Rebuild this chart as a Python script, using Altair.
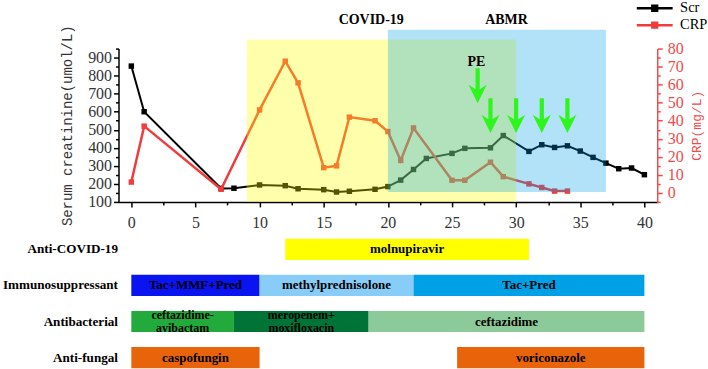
import altair as alt
import pandas as pd

# Serum creatinine (umol/L) by day
scr_day = [0, 1, 7, 8, 10, 12, 13, 15, 16, 17, 19, 20, 21, 22, 23, 25, 26, 28, 29,
           31, 32, 33, 34, 35, 36, 37, 38, 39, 40]
scr_val = [853, 600, 175, 176, 194, 190, 173, 168, 155, 159, 170, 185, 221, 280, 341,
           369, 397, 400, 468, 380, 417, 402, 411, 382, 347, 315, 284, 288, 251]

# C-reactive protein (mg/L) by day
crp_day = [0, 1, 7, 10, 12, 13, 15, 16, 17, 19, 20, 21, 22, 25, 26, 28, 29, 31, 32, 33, 34]
crp_val = [6, 37, 2, 46, 73, 61, 14, 15, 42, 40, 34, 18, 36, 7, 7, 17, 9, 5, 3, 1, 1]

# clinical phases: day span and extent on the CRP scale
phase_name = ["COVID-19", "ABMR"]
phase_start = [9, 20]
phase_end = [30, 37]
phase_low = [-5, 0.5]
phase_high = [85, 90.5]
phase_label_day = [18.7, 29.25]
phase_label_level = [95.6, 95.6]

# plasma exchange sessions
pe_day = [27, 28, 30, 32, 34]
pe_level = [59.4, 42.8, 42.8, 42.8, 42.8]
pe_label_day = [26.9]
pe_label_level = [72.4]

# treatment timeline
rows = ["Anti-COVID-19", "Immunosuppressant", "Antibacterial", "Anti-fungal"]
drug = ["molnupiravir", "Tac+MMF+Pred", "methylprednisolone", "Tac+Pred",
        "ceftazidime-\navibactam", "meropenem+\nmoxifloxacin", "ceftazidime",
        "caspofungin", "voriconazole"]
drug_row = ["Anti-COVID-19", "Immunosuppressant", "Immunosuppressant", "Immunosuppressant",
            "Antibacterial", "Antibacterial", "Antibacterial", "Anti-fungal", "Anti-fungal"]
drug_start = [12, 0, 10, 22, 0, 8, 18.5, 0, 25.4]
drug_end = [31, 10, 22, 40, 8, 18.5, 40, 10, 40]

drug_colors = ["#ffff00", "#0a14f0", "#87cdf8", "#00a0e6",
               "#22ab3c", "#007337", "#8cca9a", "#e8640a", "#e8640a"]

SERIF = "Liberation Serif"
MONO = "Liberation Mono"
RED = "#f03c3c"
AXIS_RED = "#f04a4a"

scr_df = pd.DataFrame({"day": scr_day, "scr": scr_val, "series": "Scr"})
crp_df = pd.DataFrame({"day": crp_day, "crp": crp_val, "series": "CRP"})
phase_df = pd.DataFrame({"phase": phase_name, "start": phase_start, "end": phase_end,
                         "crp": phase_low, "crp2": phase_high})
phase_lbl_df = pd.DataFrame({"phase": phase_name, "day": phase_label_day,
                             "crp": phase_label_level})
pe_df = pd.DataFrame({"day": pe_day, "crp": pe_level})
pe_lbl_df = pd.DataFrame({"day": pe_label_day, "crp": pe_label_level, "txt": ["PE"]})
drug_df = pd.DataFrame({"drug": drug, "row": drug_row, "start": drug_start, "end": drug_end})
drug_df["lines"] = drug_df["drug"].str.count("\n") + 1

x_scale = alt.Scale(domain=[-1, 41], nice=False, zero=False)
x_axis = alt.Axis(
    values=[i * 2.5 for i in range(17)],
    labelExpr="datum.value % 5 === 0 ? datum.label : ''",
    tickSize={"condition": {"test": "datum.value % 5 === 0", "value": 5}, "value": 3},
    title=None, grid=False, labelFont=SERIF, labelFontSize=16, labelColor="#333333",
    labelPadding=8, domainColor="black", domainWidth=1.5, tickColor="black", tickWidth=1.5,
)

scr_axis = alt.Axis(
    values=list(range(100, 951, 50)),
    labelExpr="datum.value % 100 === 0 ? datum.label : ''",
    tickSize={"condition": {"test": "datum.value % 100 === 0", "value": 5}, "value": 3},
    title="Serum creatinine(umol/L)", titleFont=MONO, titleFontSize=14,
    titleFontWeight="normal", titleColor="#333333", titleX=-51, titleY=77,
    titleAngle=270, titleAlign="center", titleBaseline="middle",
    grid=False, labelFont=SERIF, labelFontSize=16, labelColor="#333333", labelPadding=2,
    domainColor="black", domainWidth=1.5, tickColor="black", tickWidth=1.5,
)
scr_scale = alt.Scale(domain=[100, 950], nice=False, zero=False)

crp_axis = alt.Axis(
    orient="right",
    values=list(range(-5, 81, 5)),
    labelExpr="datum.value % 10 === 0 ? datum.label : ''",
    tickSize={"condition": {"test": "datum.value % 10 === 0", "value": 5}, "value": 3},
    title="CRP(mg/L)", titleFont=MONO, titleFontSize=13, titleFontWeight="normal",
    titleColor=AXIS_RED, titleX=39, titleY=77, titleAngle=270, titleAlign="center",
    titleBaseline="middle",
    grid=False, labelFont=SERIF, labelFontSize=16, labelColor=AXIS_RED, labelPadding=5,
    domainColor=AXIS_RED, domainWidth=1.5, tickColor=AXIS_RED, tickWidth=1.5,
)
crp_scale = alt.Scale(domain=[-5, 80], nice=False, zero=False)

series_color = alt.Color(
    "series:N",
    scale=alt.Scale(domain=["Scr", "CRP"], range=["black", RED]),
    legend=alt.Legend(
        orient="none", legendX=531, legendY=-48, direction="vertical", title=None,
        symbolType="M-3,0L3,0M-0.4,-0.4L0.4,-0.4L0.4,0.4L-0.4,0.4Z",
        symbolSize=144, symbolStrokeWidth=2.5, labelOffset=18, labelFont=SERIF,
        labelFontSize=14.5, labelColor="black", rowPadding=1,
    ),
)

x_enc = alt.X("day:Q", scale=x_scale, axis=x_axis)

# creatinine on the left axis
scr_line = alt.Chart(scr_df).mark_line(strokeWidth=2).encode(
    x=x_enc, y=alt.Y("scr:Q", scale=scr_scale, axis=scr_axis), color=series_color)
scr_pts = alt.Chart(scr_df).mark_square(size=30, color="black", opacity=1).encode(
    x=x_enc, y=alt.Y("scr:Q", scale=scr_scale, axis=scr_axis))
left = alt.layer(scr_line, scr_pts)


def crp_y(field="crp:Q"):
    return alt.Y(field, scale=crp_scale, axis=crp_axis)


# CRP on the right axis, with the phase bands and annotations laid over it
crp_line = alt.Chart(crp_df).mark_line(strokeWidth=2.5).encode(
    x=x_enc, y=crp_y(), color=series_color)
crp_pts = alt.Chart(crp_df).mark_square(size=30, color=RED, opacity=1).encode(
    x=x_enc, y=crp_y())
covid_band = alt.Chart(phase_df).transform_filter(alt.datum.phase == "COVID-19").mark_rect(
    color="#ffff00", opacity=0.33, clip=False).encode(
    x=alt.X("start:Q", scale=x_scale, axis=x_axis), x2="end:Q", y=crp_y(), y2="crp2:Q")
abmr_band = alt.Chart(phase_df).transform_filter(alt.datum.phase == "ABMR").mark_rect(
    color="#00a0e6", opacity=0.3, clip=False).encode(
    x=alt.X("start:Q", scale=x_scale, axis=x_axis), x2="end:Q", y=crp_y(), y2="crp2:Q")
arrow_path = "M-0.12,-1L0.12,-1L0.12,0.2L0.52,-0.05L0,1L-0.52,-0.05L-0.12,0.2Z"
arrows = alt.Chart(pe_df).mark_point(
    shape=arrow_path, size=1225, filled=True, color="#2ef51c", opacity=1, strokeWidth=0,
    clip=False).encode(x=x_enc, y=crp_y())
phase_text = alt.Chart(phase_lbl_df).mark_text(
    font=SERIF, fontWeight="bold", fontSize=14, color="black", clip=False).encode(
    x=x_enc, y=crp_y(), text="phase:N")
pe_text = alt.Chart(pe_lbl_df).mark_text(
    font=SERIF, fontWeight="bold", fontSize=14, color="black", clip=False).encode(
    x=x_enc, y=crp_y(), text="txt:N")
right = alt.layer(crp_line, crp_pts, covid_band, abmr_band, arrows, phase_text, pe_text)

main = alt.layer(left, right).resolve_scale(y="independent").properties(width=541, height=154)

# treatment timeline below the curves
bars = alt.Chart(drug_df).mark_bar().encode(
    x=alt.X("start:Q", scale=x_scale, axis=None),
    x2="end:Q",
    y=alt.Y("row:N", sort=rows, scale=alt.Scale(paddingInner=0.414, paddingOuter=0),
            axis=alt.Axis(title=None, domain=False, ticks=False, labelFont=SERIF,
                          labelFontWeight="bold", labelFontSize=13.2, labelColor="black",
                          labelPadding=1)),
    color=alt.Color("drug:N", scale=alt.Scale(domain=drug, range=drug_colors), legend=None),
)

label_base = alt.Chart(drug_df).transform_calculate(mid="(datum.start + datum.end) / 2")
label_enc = dict(
    x=alt.X("mid:Q", scale=x_scale, axis=None),
    y=alt.Y("row:N", sort=rows),
    text="drug:N",
)
# one-line names sit in the middle of their bar
single_text = label_base.transform_filter("datum.lines === 1").mark_text(
    font=SERIF, fontWeight="bold", fontSize=13, color="black", baseline="middle",
).encode(**label_enc)
# two-line names are lifted so the block is centred on the bar
double_text = label_base.transform_filter("datum.lines === 2").mark_text(
    font=SERIF, fontWeight="bold", fontSize=12, color="black", lineBreak="\n",
    lineHeight=14, baseline="middle", dy=-7,
).encode(**label_enc)
timeline = alt.layer(bars, single_text, double_text).properties(width=541, height=130)

chart = alt.vconcat(main, timeline, spacing=8).resolve_scale(
    color="independent").resolve_legend(color="independent").properties(
    padding={"left": 2, "top": 0, "right": 0, "bottom": 0},
    background="white",
).configure_view(stroke=None)

chart.save("out.html", embed_options={"renderer": "svg", "actions": False})
